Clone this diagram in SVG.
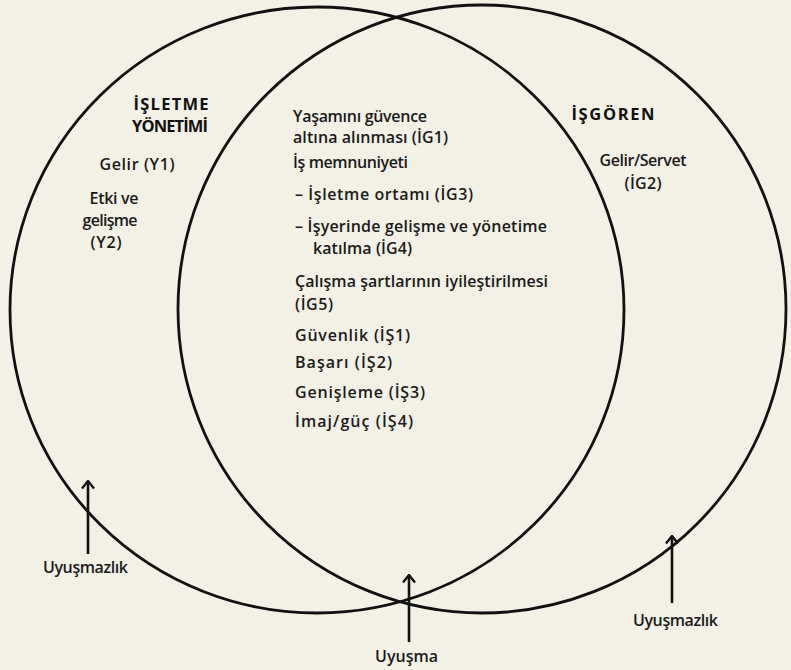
<svg xmlns="http://www.w3.org/2000/svg" width="791" height="670" viewBox="0 0 791 670">
<defs>
<style>
.bg{fill:#f3f1e5}
.ring{fill:none;stroke:#111;stroke-width:2.8}
.t{font-family:"Open Sans","Noto Sans","DejaVu Sans",sans-serif;font-size:16px;font-weight:600;fill:#1a1a1a}
.h{font-family:"Open Sans","Noto Sans","DejaVu Sans",sans-serif;font-size:16.5px;font-weight:700;fill:#111}
.ar{fill:none;stroke:#111;stroke-width:2.6}
</style>
<marker id="head" viewBox="0 0 10 14" refX="8.5" refY="7" markerWidth="10" markerHeight="14" markerUnits="userSpaceOnUse" orient="auto">
<path d="M1,1 L8.5,7 L1,13" fill="none" stroke="#111" stroke-width="2.4"/>
</marker>
</defs>
<rect class="bg" x="0" y="0" width="791" height="670"/>

<g id="isletme-yonetimi">
<ellipse class="ring" cx="317" cy="310" rx="307" ry="303"/>
<text class="h" x="171" y="110" text-anchor="middle" textLength="75">İŞLETME</text>
<text class="h" x="170" y="132" text-anchor="middle" textLength="76">YÖNETİMİ</text>
<text class="t" x="137" y="170" text-anchor="middle" textLength="75">Gelir (Y1)</text>
<text class="t" x="114" y="204" text-anchor="middle" textLength="49">Etki ve</text>
<text class="t" x="110" y="226" text-anchor="middle" textLength="55">gelişme</text>
<text class="t" x="106" y="248" text-anchor="middle" textLength="31">(Y2)</text>
</g>

<g id="isgoren">
<ellipse class="ring" cx="482" cy="309" rx="304" ry="304"/>
<text class="h" x="613" y="120" text-anchor="middle" textLength="83">İŞGÖREN</text>
<text class="t" x="643" y="166" text-anchor="middle" textLength="87">Gelir/Servet</text>
<text class="t" x="643" y="189" text-anchor="middle" textLength="37">(İG2)</text>
</g>

<g id="ortak-alan">
<text class="t" x="293" y="122" textLength="134">Yaşamını güvence</text>
<text class="t" x="293" y="143" textLength="155">altına alınması (İG1)</text>
<text class="t" x="293" y="168" textLength="115">İş memnuniyeti</text>
<text class="t" x="295" y="200" textLength="178">– İşletme ortamı (İG3)</text>
<text class="t" x="295" y="232" textLength="252">– İşyerinde gelişme ve yönetime</text>
<text class="t" x="313" y="254" textLength="99">katılma (İG4)</text>
<text class="t" x="295" y="287" textLength="253">Çalışma şartlarının iyileştirilmesi</text>
<text class="t" x="295" y="310" textLength="38">(İG5)</text>
<text class="t" x="295" y="341" textLength="115">Güvenlik (İŞ1)</text>
<text class="t" x="295" y="368" textLength="97">Başarı (İŞ2)</text>
<text class="t" x="295" y="398" textLength="130">Genişleme (İŞ3)</text>
<text class="t" x="295" y="427" textLength="118">İmaj/güç (İŞ4)</text>
</g>

<g id="connectors">
<line class="ar" x1="88" y1="554" x2="88" y2="481" marker-end="url(#head)"/>
<line class="ar" x1="409" y1="642" x2="409" y2="575" marker-end="url(#head)"/>
<line class="ar" x1="672" y1="603" x2="672" y2="536" marker-end="url(#head)"/>
</g>

<g id="etiketler">
<text class="t" x="85.5" y="573" text-anchor="middle" textLength="85">Uyuşmazlık</text>
<text class="t" x="406.5" y="662" text-anchor="middle" textLength="63">Uyuşma</text>
<text class="t" x="675.5" y="626" text-anchor="middle" textLength="85">Uyuşmazlık</text>
</g>
</svg>
